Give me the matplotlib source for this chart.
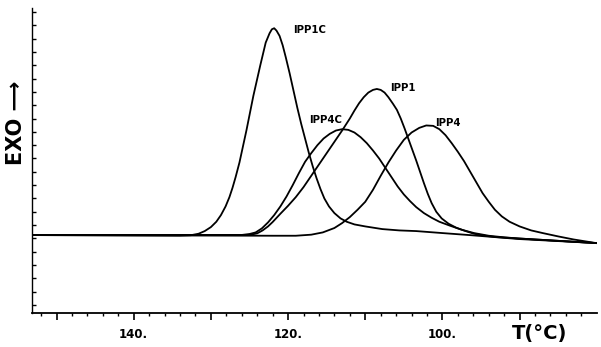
import numpy as np
import matplotlib
matplotlib.use('Agg')
import matplotlib.pyplot as plt
from matplotlib.ticker import FixedLocator, FuncFormatter

plt.rcParams['font.family'] = ['DejaVu Sans']

# DSC exotherms: temperature (C) and signal (arb. units)
t_ipp1c = [153.2, 134.0, 132.6, 131.6, 130.8, 130.0, 129.3, 128.7, 128.1, 127.6,
           127.2, 126.8, 126.3, 125.4, 124.5, 123.6, 122.9, 122.4, 122.1, 121.8,
           121.5, 121.1, 120.7, 120.3, 119.8, 119.3, 118.8, 118.3, 117.8, 117.3,
           116.8, 116.3, 115.8, 115.3, 114.7, 114.0, 113.2, 112.4, 111.4, 110.0,
           107.8, 105.6, 103.4, 100.0, 96.5, 90.0, 80.1]
s_ipp1c = [5.85, 5.81, 5.84, 5.95, 6.15, 6.45, 6.85, 7.35, 8.00, 8.70,
           9.40, 10.20, 11.30, 13.70, 16.30, 18.60, 20.30, 21.00, 21.30, 21.38,
           21.20, 20.80, 20.10, 19.20, 18.00, 16.70, 15.40, 14.20, 13.10, 12.00,
           11.00, 10.10, 9.30, 8.60, 8.00, 7.50, 7.10, 6.85, 6.65, 6.50,
           6.30, 6.20, 6.15, 6.00, 5.85, 5.55, 5.25]

t_ipp1 = [153.2, 125.6, 124.8, 124.0, 123.3, 122.6, 122.0, 121.0, 120.0, 119.0,
          118.0, 117.0, 116.0, 115.0, 114.0, 113.0, 112.0, 111.4, 110.8, 110.2,
          109.6, 109.0, 108.5, 108.0, 107.5, 107.0, 106.4, 105.9, 105.4, 104.9,
          104.4, 103.9, 103.4, 102.9, 102.4, 101.9, 101.4, 100.8, 100.1, 99.2,
          98.2, 97.0, 95.9, 94.5, 93.0, 90.0, 80.1]
s_ipp1 = [5.85, 5.85, 5.88, 5.98, 6.20, 6.50, 6.83, 7.45, 8.05, 8.70,
          9.45, 10.30, 11.15, 12.00, 12.85, 13.70, 14.60, 15.20, 15.75, 16.20,
          16.55, 16.75, 16.82, 16.75, 16.55, 16.20, 15.70, 15.25, 14.60, 13.85,
          13.05, 12.25, 11.45, 10.60, 9.75, 8.95, 8.25, 7.60, 7.10, 6.70,
          6.40, 6.15, 5.95, 5.80, 5.70, 5.59, 5.25]

t_ipp4c = [153.2, 126.0, 125.0, 124.2, 123.4, 122.6, 121.8, 121.0, 120.2, 119.4,
           118.6, 117.8, 117.0, 116.2, 115.4, 114.6, 113.8, 113.0, 112.2, 111.4,
           110.6, 109.8, 109.0, 108.2, 107.4, 106.6, 105.8, 105.0, 104.2, 103.4,
           102.4, 101.4, 100.4, 99.0, 97.5, 95.9, 94.0, 92.0, 90.0, 80.1]
s_ipp4c = [5.85, 5.86, 5.93, 6.05, 6.35, 6.80, 7.35, 8.00, 8.75, 9.60,
           10.50, 11.35, 12.00, 12.60, 13.10, 13.45, 13.70, 13.80, 13.75, 13.55,
           13.20, 12.75, 12.20, 11.60, 10.90, 10.20, 9.50, 8.90, 8.40, 7.95,
           7.50, 7.15, 6.85, 6.55, 6.25, 6.00, 5.80, 5.68, 5.59, 5.25]

t_ipp4 = [153.2, 122.0, 119.0, 117.0, 115.5, 114.0, 113.0, 112.0, 111.0, 110.0,
          109.0, 108.0, 107.0, 106.0, 105.0, 104.0, 103.0, 102.1, 101.2, 100.4,
          99.6, 98.8, 98.0, 97.2, 96.4, 95.6, 94.8, 94.0, 93.2, 92.3,
          91.3, 90.0, 88.5, 87.0, 85.0, 83.0, 80.1]
s_ipp4 = [5.85, 5.80, 5.80, 5.88, 6.05, 6.38, 6.75, 7.20, 7.75, 8.35,
          9.25, 10.30, 11.30, 12.20, 13.00, 13.55, 13.90, 14.08, 14.05, 13.80,
          13.35, 12.75, 12.10, 11.40, 10.60, 9.80, 9.00, 8.35, 7.75, 7.25,
          6.85, 6.50, 6.20, 6.00, 5.75, 5.52, 5.25]

curves = [('IPP1C', t_ipp1c, s_ipp1c, (13.5, -1.5)),
          ('IPP1', t_ipp1, s_ipp1, (9.5, 0.5)),
          ('IPP4C', t_ipp4c, s_ipp4c, (-24, 6.5)),
          ('IPP4', t_ipp4, s_ipp4, (6.5, 2.0))]

fig = plt.figure(figsize=(6.01, 3.47), dpi=100)
ax = fig.add_axes([0.053, 0.098, 0.940, 0.879])

for name, t, s, off in curves:
    ax.plot(t, s, '-', color='black', lw=1.3)
    i = int(np.argmax(s))
    ax.annotate(name, (t[i], s[i]), xytext=off, textcoords='offset points',
                ha='left', va='center', fontsize=7.3, fontweight='bold')

ax.set_xlim(153.2, 80.0)
ax.set_ylim(0, 22.9)

for side in ['top', 'right']:
    ax.spines[side].set_visible(False)
ax.spines['left'].set_linewidth(1.0)
ax.spines['bottom'].set_linewidth(1.3)

ax.xaxis.set_major_locator(FixedLocator([150, 140, 130, 120, 110, 100, 90]))
ax.xaxis.set_minor_locator(FixedLocator(np.arange(82, 154, 2)))
ax.xaxis.set_major_formatter(FuncFormatter(lambda v, p: '%d.' % v if v in (140, 120, 100) else ''))
ax.tick_params(axis='x', which='major', direction='out', length=5, width=1.2,
               labelsize=8.5, pad=6)
ax.tick_params(axis='x', which='minor', direction='out', length=2.5, width=1.0)
for lab in ax.get_xticklabels():
    lab.set_fontweight('bold')

ax.yaxis.set_major_locator(FixedLocator(np.arange(0.6, 22.9, 1.0)))
ax.tick_params(axis='y', which='major', direction='in', length=3, width=1.0,
               labelleft=False)

fig.text(16 / 601, 1 - 123 / 347, 'EXO \u27f6', rotation=90, ha='center', va='center',
         fontsize=15, fontweight='bold')
fig.text(540 / 601, 1 - 333 / 347, 'T(\u00b0C)', ha='center', va='center',
         fontsize=14, fontweight='bold')

plt.savefig('out.png', dpi=100)
